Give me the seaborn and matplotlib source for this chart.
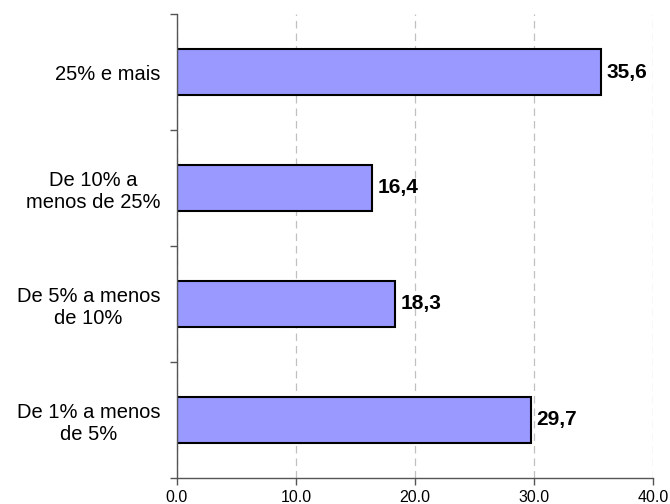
import seaborn as sns
import matplotlib.pyplot as plt
import pandas as pd
from matplotlib.ticker import FixedLocator

sns.set_theme(style="white")
plt.rcParams["font.family"] = ["Liberation Sans", "DejaVu Sans"]
plt.rcParams["text.color"] = "black"
plt.rcParams["xtick.color"] = "black"
plt.rcParams["ytick.color"] = "black"

# Data (top to bottom)
categories = ["25% e mais", "De 10% a\nmenos de 25%",
              "De 5% a menos\nde 10%", "De 1% a menos\nde 5%"]
values = [35.6, 16.4, 18.3, 29.7]
value_labels = ["35,6", "16,4", "18,3", "29,7"]
x_ticks = [0, 10, 20, 30, 40]

df = pd.DataFrame({"cat": categories, "val": values})

fig = plt.figure(figsize=(6.7, 5.04), dpi=100)
ax = fig.add_axes([0.264, 0.052, 0.711, 0.92])

sns.barplot(data=df, x="val", y="cat", orient="h", color="#9999FF",
            saturation=1, edgecolor="black", linewidth=1.5, width=0.4, ax=ax)

ax.set_xlim(0, 40)
ax.set_ylim(3.5, -0.5)
ax.set_xticks(x_ticks)
ax.set_xticklabels([f"{t:.1f}" for t in x_ticks], fontsize=11.5)
ax.set_xlabel("")
ax.set_ylabel("")

# category labels centred, ticks at the boundaries
ax.tick_params(axis="y", which="major", length=0, pad=12, labelsize=14.5)
for lbl in ax.get_yticklabels():
    lbl.set_multialignment("center")
ax.yaxis.set_minor_locator(FixedLocator([-0.5, 0.5, 1.5, 2.5, 3.5]))
ax.tick_params(axis="y", which="minor", length=5, width=1, color="#555555",
               direction="out", left=True)
ax.tick_params(axis="x", length=5, width=1, color="#555555",
               direction="out", bottom=True, pad=4)

ax.grid(axis="x", color="#c0c0c0", linestyle=(0, (6, 4)), linewidth=0.9)
ax.set_axisbelow(True)

for side in ["top", "right"]:
    ax.spines[side].set_visible(False)
for side in ["left", "bottom"]:
    ax.spines[side].set_color("#555555")
    ax.spines[side].set_linewidth(1)

for i, (v, t) in enumerate(zip(values, value_labels)):
    ax.annotate(t, (v, i), xytext=(4, 0), textcoords="offset points",
                va="center", ha="left", fontsize=15, fontweight="bold")

fig.savefig("out.png", dpi=100)
